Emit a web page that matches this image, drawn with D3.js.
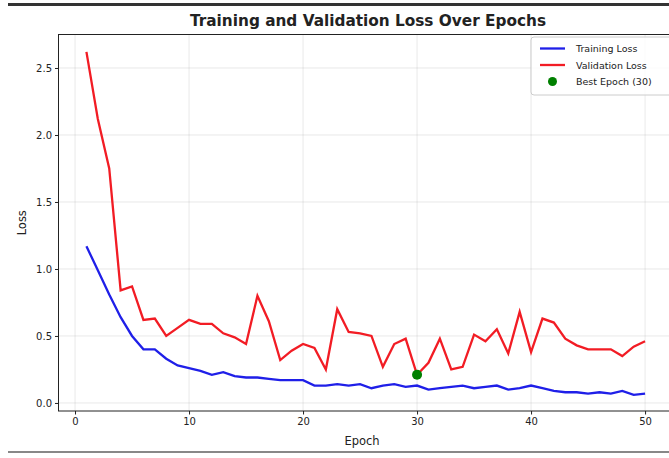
<!DOCTYPE html>
<html>
<head>
<meta charset="utf-8">
<script src="https://cdn.jsdelivr.net/npm/d3@7"></script>
<style>
  body { margin: 0; background: #fff; }
  text { font-family: "DejaVu Sans", sans-serif; fill: #222; }
</style>
</head>
<body>
<svg id="chart" width="669" height="458"></svg>
<script>
var epochs = d3.range(1, 51);
var trainLoss = [1.17, 0.99, 0.81, 0.64, 0.50, 0.40, 0.40, 0.33, 0.28, 0.26,
                 0.24, 0.21, 0.23, 0.20, 0.19, 0.19, 0.18, 0.17, 0.17, 0.17,
                 0.13, 0.13, 0.14, 0.13, 0.14, 0.11, 0.13, 0.14, 0.12, 0.13,
                 0.10, 0.11, 0.12, 0.13, 0.11, 0.12, 0.13, 0.10, 0.11, 0.13,
                 0.11, 0.09, 0.08, 0.08, 0.07, 0.08, 0.07, 0.09, 0.06, 0.07];
var valLoss = [2.62, 2.12, 1.75, 0.84, 0.87, 0.62, 0.63, 0.50, 0.56, 0.62,
               0.59, 0.59, 0.52, 0.49, 0.44, 0.80, 0.61, 0.32, 0.39, 0.44,
               0.41, 0.25, 0.70, 0.53, 0.52, 0.50, 0.27, 0.44, 0.48, 0.21,
               0.30, 0.48, 0.25, 0.27, 0.51, 0.46, 0.55, 0.37, 0.68, 0.38,
               0.63, 0.60, 0.48, 0.43, 0.40, 0.40, 0.40, 0.35, 0.42, 0.46];
var bestEpoch = 30;
var xTicks = [0, 10, 20, 30, 40, 50];
var yTicks = [0.0, 0.5, 1.0, 1.5, 2.0, 2.5];

var svg = d3.select("#chart");
var plotL = 58.5, plotR = 673, plotT = 34.5, plotB = 411;

var x = d3.scaleLinear().domain([-1.45, 52.45]).range([plotL, plotR]);
var y = d3.scaleLinear().domain([-0.06, 2.75]).range([plotB, plotT]);

// screenshot frame lines
svg.append("rect").attr("x", 8).attr("y", 3).attr("width", 661).attr("height", 3).attr("fill", "#333");
svg.append("rect").attr("x", 8).attr("y", 451).attr("width", 661).attr("height", 2).attr("fill", "#888");

// grid
var grid = svg.append("g").attr("stroke", "#b0b0b0").attr("stroke-opacity", 0.35).attr("stroke-width", 0.8);
grid.selectAll(".gx").data(xTicks).enter().append("line")
    .attr("x1", function (d) { return x(d); }).attr("x2", function (d) { return x(d); })
    .attr("y1", plotT).attr("y2", plotB);
grid.selectAll(".gy").data(yTicks).enter().append("line")
    .attr("y1", function (d) { return y(d); }).attr("y2", function (d) { return y(d); })
    .attr("x1", plotL).attr("x2", plotR);

// lines
var line = function (vals) {
    return d3.line()
        .x(function (d, i) { return x(epochs[i]); })
        .y(function (d) { return y(d); })(vals);
};
svg.append("path").attr("d", line(trainLoss)).attr("fill", "none")
    .attr("stroke", "#1f1fe8").attr("stroke-width", 2.3);
svg.append("path").attr("d", line(valLoss)).attr("fill", "none")
    .attr("stroke", "#f21c24").attr("stroke-width", 2.3);

svg.append("circle")
    .attr("cx", x(bestEpoch)).attr("cy", y(valLoss[bestEpoch - 1]))
    .attr("r", 5).attr("fill", "#008000");

// axes
var xAxis = svg.append("g").attr("transform", "translate(0," + plotB + ")")
    .call(d3.axisBottom(x).tickValues(xTicks).tickSize(3.5).tickPadding(3).tickFormat(d3.format("d")));
var yAxis = svg.append("g").attr("transform", "translate(" + plotL + ",0)")
    .call(d3.axisLeft(y).tickValues(yTicks).tickSize(3.5).tickPadding(3).tickFormat(d3.format(".1f")));
[xAxis, yAxis].forEach(function (a) {
    a.select(".domain").remove();
    a.selectAll("text").style("font-family", "DejaVu Sans").style("font-size", "10px").attr("fill", "#222");
    a.selectAll("line").attr("stroke", "#222");
});

// frame
svg.append("rect").attr("x", plotL).attr("y", plotT)
    .attr("width", plotR - plotL).attr("height", plotB - plotT)
    .attr("fill", "none").attr("stroke", "#222").attr("stroke-width", 1);

// labels
svg.append("text").attr("x", 368).attr("y", 26).attr("text-anchor", "middle")
    .style("font-weight", "bold").style("font-size", "15.3px").text("Training and Validation Loss Over Epochs");
svg.append("text").attr("x", 362).attr("y", 445).attr("text-anchor", "middle")
    .style("font-size", "11.5px").text("Epoch");
svg.append("text").attr("transform", "translate(26," + ((plotT + plotB) / 2) + ") rotate(-90)")
    .attr("text-anchor", "middle").style("font-size", "11.5px").text("Loss");

// legend
var lg = svg.append("g").attr("transform", "translate(531,37)");
lg.append("rect").attr("width", 145).attr("height", 58).attr("rx", 3)
    .attr("fill", "#fff").attr("fill-opacity", 0.8).attr("stroke", "#ccc");
var items = [
    { name: "Training Loss", color: "#1f1fe8", type: "line" },
    { name: "Validation Loss", color: "#f21c24", type: "line" },
    { name: "Best Epoch (30)", color: "#008000", type: "dot" }
];
items.forEach(function (d, i) {
    var yy = 11.5 + i * 16.5;
    if (d.type === "line") {
        lg.append("line").attr("x1", 9).attr("x2", 34).attr("y1", yy).attr("y2", yy)
            .attr("stroke", d.color).attr("stroke-width", 2.3);
    } else {
        lg.append("circle").attr("cx", 21.5).attr("cy", yy).attr("r", 4.5).attr("fill", d.color);
    }
    lg.append("text").attr("x", 45).attr("y", yy + 3.5).style("font-size", "9.5px").text(d.name);
});
</script>
</body>
</html>
